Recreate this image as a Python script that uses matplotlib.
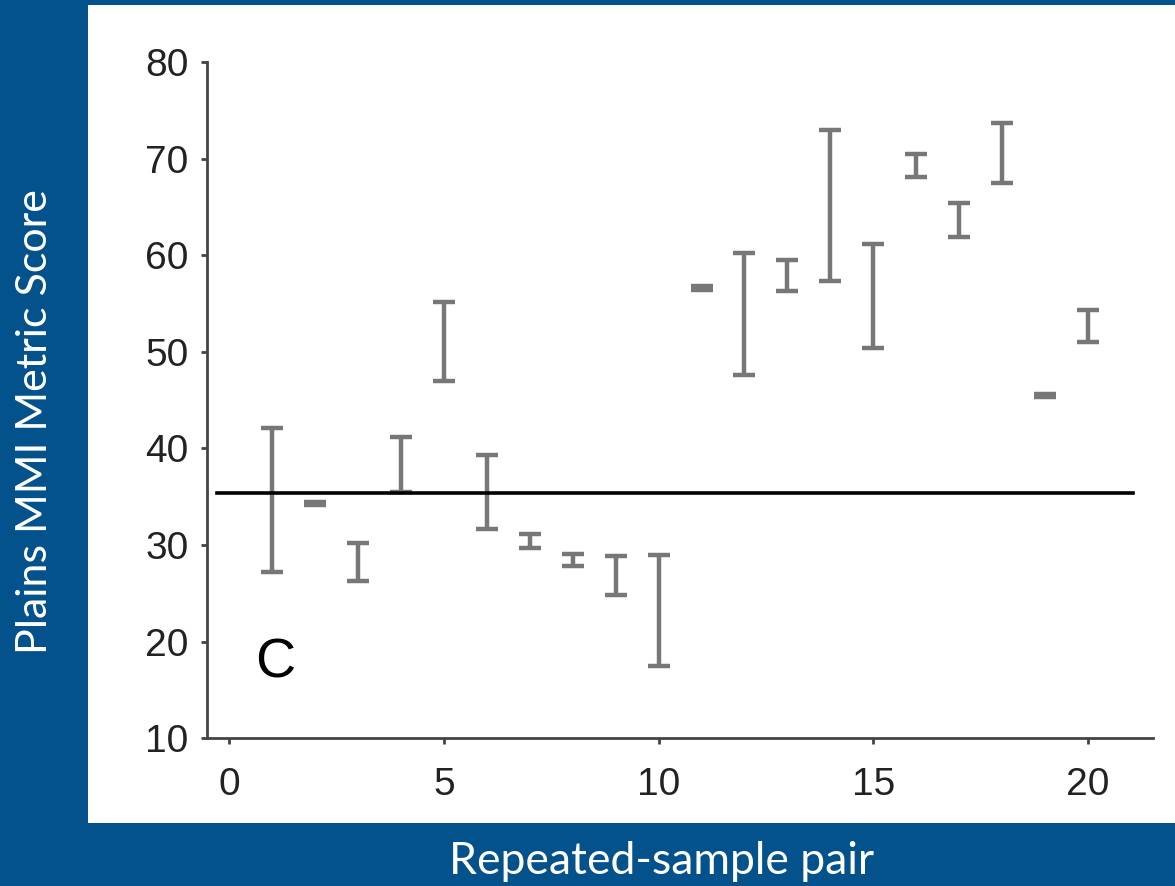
import numpy as np
import matplotlib.pyplot as plt
from matplotlib.patches import Rectangle

# range of the two repeated samples for each pair
pair = np.arange(1, 21)
low = [27.2, 34.1, 26.3, 35.5, 47.0, 31.7, 29.7, 27.8, 24.8, 17.5,
       56.4, 47.6, 56.3, 57.3, 50.4, 68.1, 61.9, 67.5, 45.3, 51.0]
high = [42.1, 34.5, 30.2, 41.2, 55.2, 39.3, 31.1, 29.1, 28.9, 29.0,
        56.8, 60.2, 59.5, 73.0, 61.2, 70.5, 65.4, 73.7, 45.6, 54.3]
threshold = 35.4

blue = '#04528b'
low = np.array(low)
high = np.array(high)
mid = (low + high) / 2

fig = plt.figure(figsize=(11.75, 8.86), dpi=100, facecolor=blue)
# white panel behind the chart
fig.add_artist(Rectangle((88/1175, 1-822.7/886), 1-88/1175, (822.7-5)/886,
                         transform=fig.transFigure, facecolor='white',
                         edgecolor='none', zorder=0))

ax = fig.add_axes([206.7/1175, 1-738.3/886, (1153-206.7)/1175, (738.3-62)/886])
ax.set_facecolor('none')

ax.errorbar(pair, mid, yerr=[mid-low, high-mid], fmt='none', ecolor='#777777',
            elinewidth=3.2, capsize=7.6, capthick=3.2)
ax.plot([-0.28, 21.05], [threshold, threshold], color='black', lw=2.6)

ax.text(0.6, 16.3, 'C', fontsize=40, family='Liberation Sans', ha='left', va='baseline')

ax.set_xlim(-0.52, 21.51)
ax.set_ylim(10, 80)
ax.set_xticks([0, 5, 10, 15, 20])
ax.set_yticks(range(10, 81, 10))
for s in ['top', 'right']:
    ax.spines[s].set_visible(False)
for s in ['left', 'bottom']:
    ax.spines[s].set_color('#444444')
    ax.spines[s].set_linewidth(2)
ax.tick_params(axis='both', colors='#444444', width=2, length=4, labelcolor='#222222')
ax.tick_params(axis='x', pad=17)
ax.tick_params(axis='y', pad=9)
for lab in ax.get_xticklabels() + ax.get_yticklabels():
    lab.set_fontfamily('Liberation Sans')
    lab.set_fontsize(28)

fig.text(35/1175, 1-422/886, 'Plains MMI Metric Score', rotation=90, color='white',
         family='Lato', fontsize=31, ha='center', va='center')
fig.text(662/1175, 1-862/886, 'Repeated-sample pair', color='white',
         family='Lato', fontsize=32, ha='center', va='center')

fig.savefig('out.png', dpi=100, facecolor=blue)
